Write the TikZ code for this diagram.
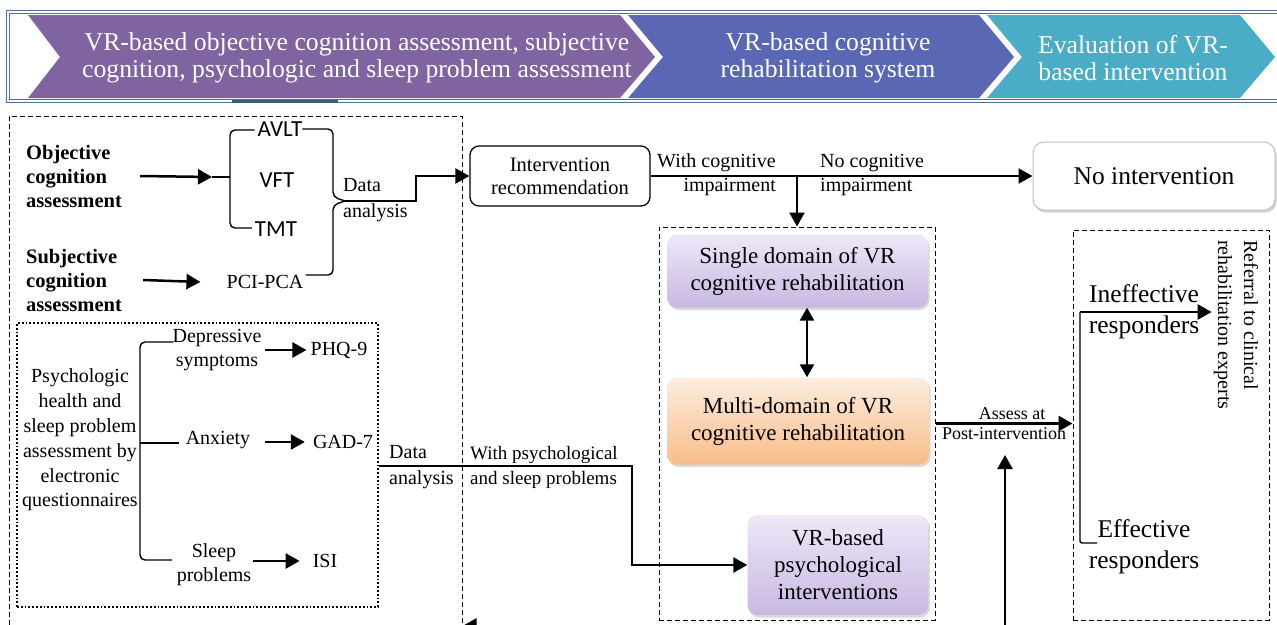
\documentclass[tikz,border=0pt]{standalone}
\usepackage{fontspec}
\setmainfont{Liberation Serif}
\newfontfamily\calibri{Carlito}
\usetikzlibrary{arrows.meta,shadows,positioning}

\definecolor{chevpurple}{HTML}{8064A2}
\definecolor{chevblue}{HTML}{5A67B4}
\definecolor{chevteal}{HTML}{4BACC6}
\definecolor{framecol}{HTML}{4F6F9F}
\definecolor{lilactop}{HTML}{EEE8F7}
\definecolor{lilacbot}{HTML}{C8B8E2}
\definecolor{peachtop}{HTML}{FDEDE0}
\definecolor{peachbot}{HTML}{F9BC88}

\tikzset{
  flow/.style={line width=2.5pt, -{Triangle[length=14pt,width=15pt]}},
  twoway/.style={line width=2.5pt, {Triangle[length=13pt,width=14pt]}-{Triangle[length=13pt,width=14pt]}},
  brace/.style={line width=1.4pt, rounded corners=5pt},
  bantxt/.style={inner sep=0pt, align=center, text=white, font=\fontsize{25.7}{27.5}\selectfont},
  txt/.style={inner sep=0pt, align=center, font=\fontsize{20}{24}\selectfont},
  boldtxt/.style={inner sep=0pt, align=left, font=\fontsize{20.5}{24}\selectfont\bfseries},
  sanstxt/.style={inner sep=0pt, font=\fontsize{23}{26}\selectfont\calibri},
  bigtxt/.style={inner sep=0pt, align=center, font=\fontsize{23}{27}\selectfont},
  resptxt/.style={inner sep=0pt, align=center, font=\fontsize{25.5}{31}\selectfont},
  dbox/.style={draw, line width=1pt, dash pattern=on 5pt off 3pt, inner sep=0pt},
  dotbox/.style={draw, line width=1.8pt, dash pattern=on 1.8pt off 2pt, inner sep=0pt},
  recbox/.style={draw, line width=1.3pt, rounded corners=9pt, align=center,
    minimum width=180, minimum height=60, font=\fontsize{20.5}{23}\selectfont},
  plainbox/.style={draw=black!25, fill=white, line width=1pt, rounded corners=11pt,
    minimum width=242, minimum height=68, font=\fontsize{25.5}{30}\selectfont,
    drop shadow={opacity=0.35, shadow xshift=1.5pt, shadow yshift=-2.5pt}},
  lilac/.style={rounded corners=10pt, top color=lilactop, bottom color=lilacbot, align=center,
    font=\fontsize{23}{27}\selectfont,
    drop shadow={opacity=0.3, shadow xshift=1.5pt, shadow yshift=-2.5pt}},
  peach/.style={lilac, top color=peachtop, bottom color=peachbot}
}

\begin{document}
\begin{tikzpicture}[x=1pt,y=-1pt]
\useasboundingbox (0,0) rectangle (1277,624);
% banner
\draw[framecol, line width=1pt, double=white, double distance=1.5pt] (8,12) rectangle (1300,101);
\fill[framecol!80!black] (232,99.5) rectangle (338,102.5);
\fill[chevpurple] (28,15) -- (620,15) -- (655,57) -- (620,98) -- (28,98) -- (60,57) -- cycle;
\fill[chevblue] (628,15) -- (979,15) -- (1014,57) -- (979,98) -- (628,98) -- (663,57) -- cycle;
\fill[chevteal] (987,15) -- (1240,15) -- (1275,57) -- (1240,98) -- (987,98) -- (1022,57) -- cycle;
\node[bantxt] (banA) at (357,58) {VR-based objective cognition assessment, subjective\\cognition, psychologic and sleep problem assessment};
\node[bantxt] (banB) at (828,58) {VR-based cognitive\\rehabilitation system};
\node[bantxt] (banC) at (1133,58) {Evaluation of VR-\\based intervention};

% assessment column
\node[dbox, minimum width=453, minimum height=534] (lbox) at (235.5,383) {};
\node[dotbox, minimum width=361, minimum height=284] (psybox) at (197.5,465) {};
\node[boldtxt, anchor=west] (objc) at (26,176) {Objective\\cognition\\assessment};
\node[boldtxt, anchor=west] (subc) at (26,280) {Subjective\\cognition\\assessment};
\node[sanstxt] (avlt) at (280,129) {AVLT};
\node[sanstxt] (vft) at (277,180) {VFT};
\node[sanstxt] (tmt) at (276,229) {TMT};
\node[txt] (pci) at (265,282) {PCI-PCA};
\coordinate (objtip) at (212,177);
\coordinate (brtip) at (345,201);
\draw[flow] ([xshift=18pt]objc.east) -- (objtip);
\draw[brace] ([xshift=-3pt]avlt.west |- 0,130) -- (230,130) -- (230,228) -- ([xshift=-3pt]tmt.west |- 0,228);
\draw[brace] (objtip) -- (230,177);
\draw[brace] (avlt.east |- 0,129) -- (333,129) -- (333,197) -- (brtip);
\draw[brace] ([xshift=2pt]pci.east |- 0,275) -- (333,275) -- (333,205) -- (brtip);
\draw[flow] ([xshift=21pt]subc.east) -- ([xshift=-26pt]pci.west);
\node[txt, align=left, anchor=west, font=\fontsize{20}{26}\selectfont] (dataA) at (343,200) {Data\\analysis};

\node[txt, font=\fontsize{20}{24.8}\selectfont] (psy) at (80,440) {Psychologic\\health and\\sleep problem\\assessment by\\electronic\\questionnaires};
\node[txt] (depr) at (217,350) {Depressive\\symptoms};
\node[txt] (anx) at (218,440) {Anxiety};
\node[txt] (slp) at (214,565) {Sleep\\problems};
\node[txt] (phq) at (339,350) {PHQ-9};
\node[txt] (gad) at (343,442) {GAD-7};
\node[txt] (isi) at (325,561) {ISI};
\draw[brace] (173,342) -- (140,342) -- (140,560) -- (172,560);
\draw[brace] (140,443) -- ([xshift=-7pt]anx.west |- 0,443);
\draw[flow] ([xshift=3pt]depr.east) -- ([xshift=-4pt]phq.west);
\draw[flow] ([xshift=15pt]anx.east |- 0,442) -- ([xshift=-8pt]gad.west |- 0,442);
\draw[flow] ([xshift=2pt]slp.east |- 0,561) -- ([xshift=-13pt]isi.west);

% recommendation
\node[recbox] (recom) at (560,176) {Intervention\\recommendation};
\node[plainbox] (noint) at (1154,176) {No intervention};
\draw[flow] (brtip) -- (416,201) |- (recom.west);
\coordinate (split) at (797,176);
\draw[flow] (recom.east) -- (noint.west);
\node[txt, align=right, anchor=east] (withc) at (776,175) {With cognitive\\impairment};
\node[txt, align=left, anchor=west] (noc) at (820,175) {No cognitive\\impairment};

% rehabilitation system
\node[dbox, minimum width=276, minimum height=393] (midbox) at (797,423.5) {};
\draw[flow] (split) -- (midbox.north);
\node[lilac, minimum width=261, minimum height=73] (single) at (797.5,271) {Single domain of VR\\cognitive rehabilitation};
\node[peach, minimum width=262, minimum height=87] (multi) at (798,421) {Multi-domain of VR\\cognitive rehabilitation};
\node[lilac, minimum width=181, minimum height=100] (psyint) at (838,565) {VR-based\\psychological\\interventions};
\draw[twoway] ([xshift=9.5pt]single.south) -- ([xshift=9pt]multi.north);
\draw[flow] (psybox.east |- 0,466) -- (632,466) |- (psyint.west);
\node[txt, align=left, anchor=west, font=\fontsize{20}{26}\selectfont] (dataB) at (389,467) {Data\\analysis};
\node[txt, align=left, anchor=west, font=\fontsize{19}{25}\selectfont] (withp) at (470,467) {With psychological\\and sleep problems};

% evaluation
\node[dbox, minimum width=196, minimum height=390] (rbox) at (1171,425) {};
\draw[flow] (midbox.east) -- (midbox.east -| rbox.west);
\node[inner sep=0pt, anchor=south, font=\fontsize{18}{22}\selectfont] (assA) at (1012,420) {Assess at};
\node[inner sep=0pt, anchor=north, font=\fontsize{18}{22}\selectfont] (assB) at (1004,427) {Post-intervention};
\coordinate (upfoot) at (1005,650);
\coordinate (uphead) at (1005,455);
\draw[flow] (upfoot) -- (uphead);
\coordinate (loopfoot) at (640,626);
\draw[flow] (loopfoot) -- (lbox.east |- loopfoot);

\node[resptxt] (ineff) at (1144,312) {Ineffective\\responders};
\node[resptxt] (eff) at (1144,547) {Effective\\responders};
\node[txt, align=left, rotate=-90, font=\fontsize{20}{26}\selectfont] (refer) at (1236,325) {Referral to clinical\\rehabilitation experts};
\coordinate (ineffc) at (1080,312);
\draw[brace, rounded corners=2pt] (1097,543) -- (1080,543) -- (ineffc);
\draw[flow] (ineffc) -- ([xshift=-2pt]refer.south |- ineffc);
\end{tikzpicture}
\end{document}
